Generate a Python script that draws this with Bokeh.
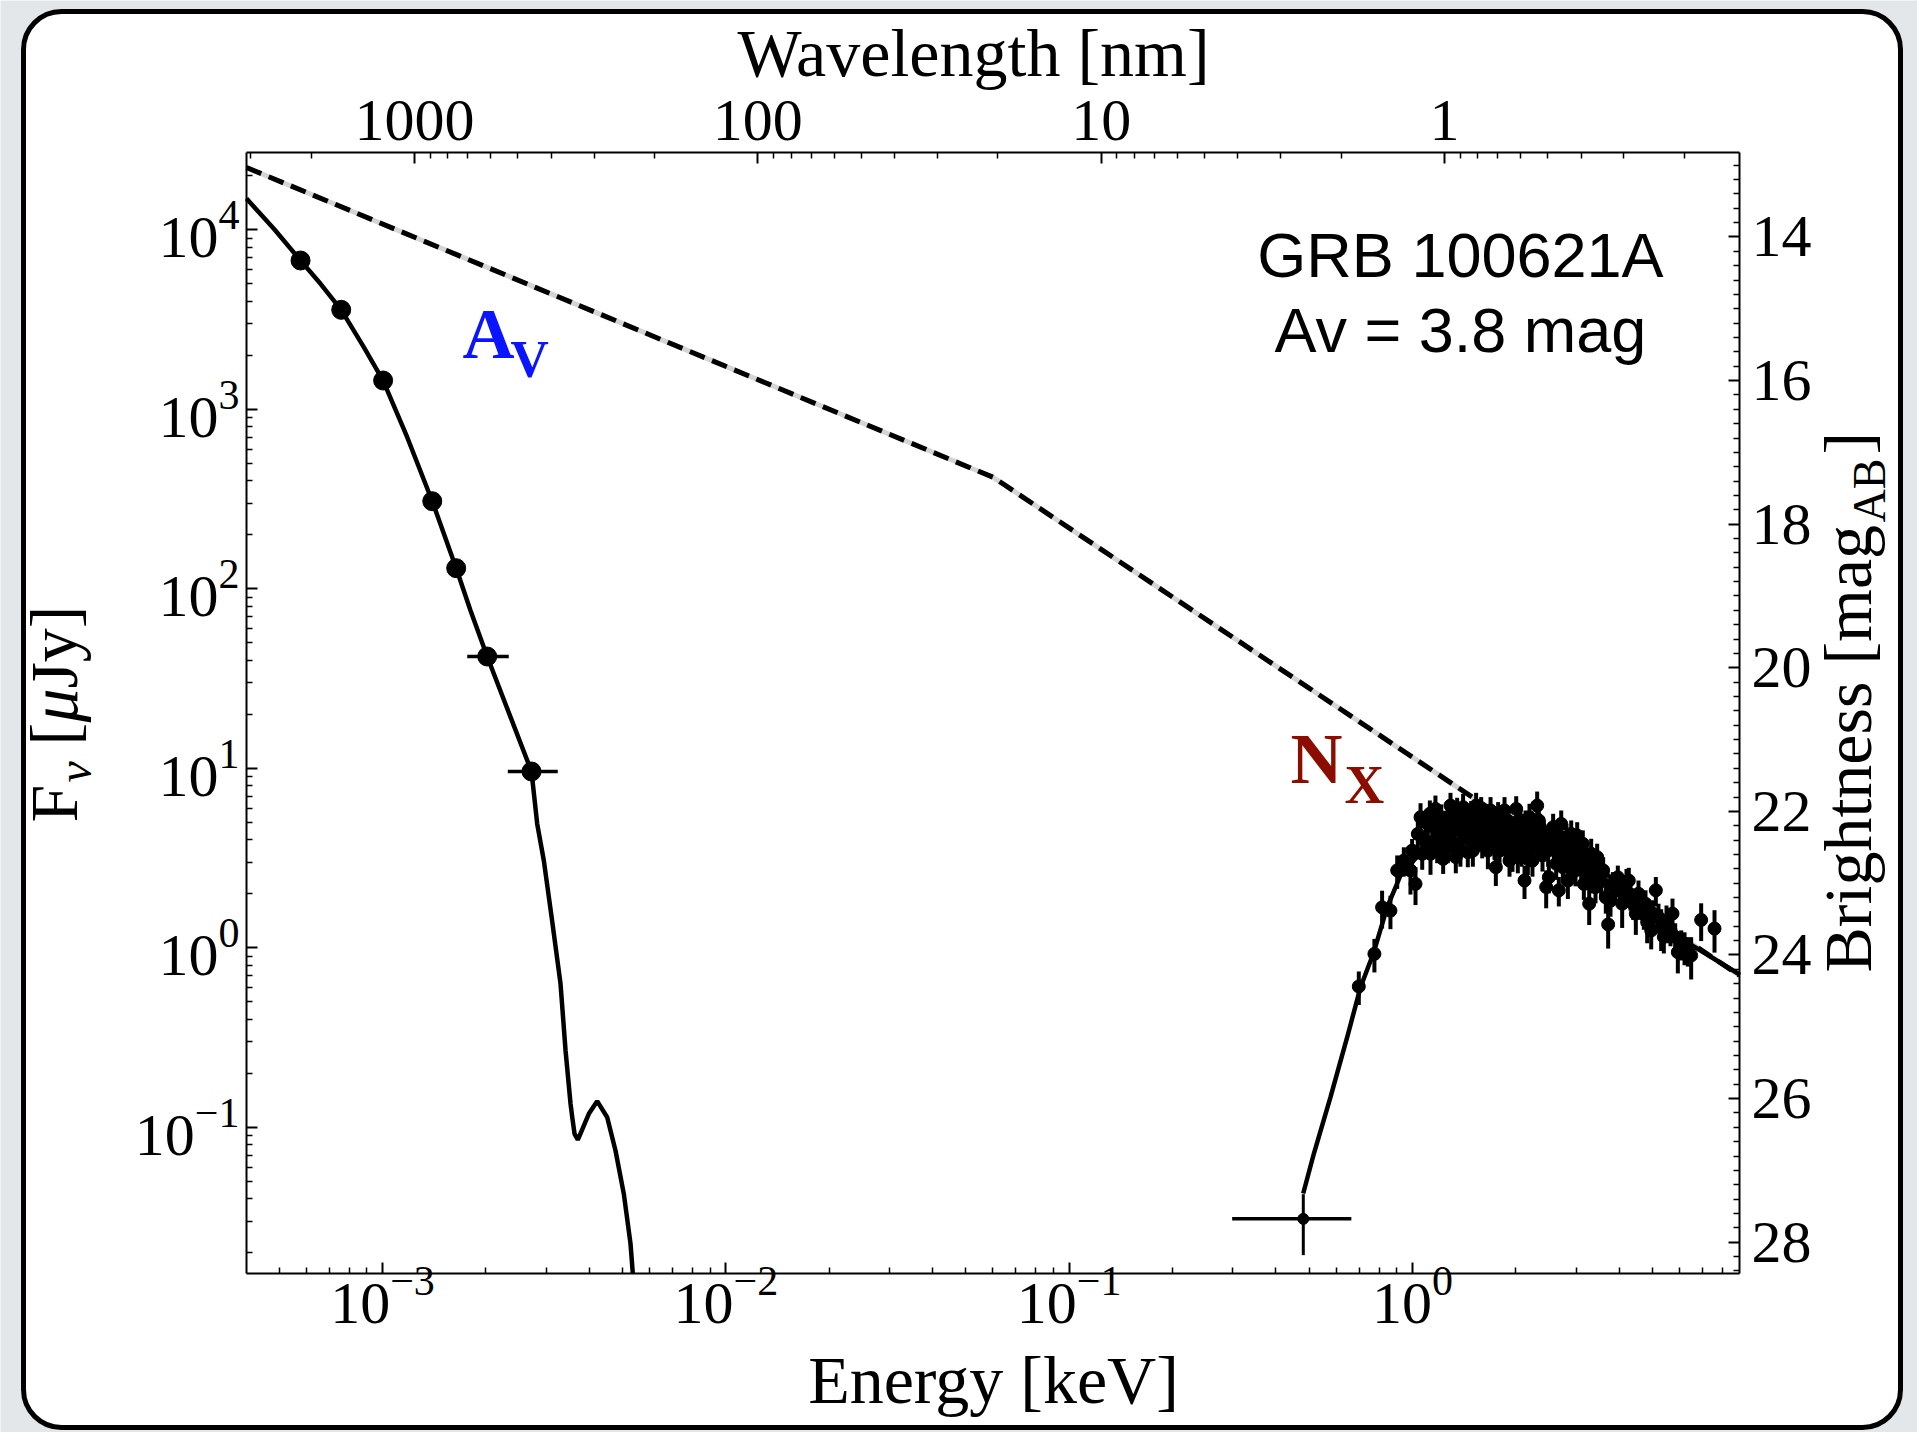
import numpy as np
from bokeh.plotting import figure
from bokeh.models import (LinearAxis, FixedTicker, CustomJSTickFormatter,
                          LogTickFormatter, Label, BoxAnnotation, Range1d)
from bokeh.embed import file_html
from bokeh.resources import INLINE

HC_KEV_NM = 1.23984      # E[keV] = HC / lambda[nm]
AB_ZP_UJY = 23.9         # m_AB = 23.9 - 2.5 log10(F / uJy)

# ---------------- data ----------------
# optical / NIR photometry (keV, uJy)
opt_E = [5.77e-4, 7.58e-4, 1.004e-3, 1.396e-3, 1.639e-3, 2.018e-3, 2.716e-3]
opt_E_lo = [5.43e-4, 7.13e-4, 9.44e-4, 1.312e-3, 1.541e-3, 1.765e-3, 2.317e-3]
opt_E_hi = [6.12e-4, 8.03e-4, 1.064e-3, 1.480e-3, 1.737e-3, 2.332e-3, 3.24e-3]
opt_F = [6745, 3583, 1447, 307.6, 130.3, 41.96, 9.60]
opt_F_err = [250, 130, 50, 10, 4.5, 1.4, 0.35]

# intrinsic (unabsorbed) broken power law
pl_E = [4.016e-4, 0.0601, 8.97]
pl_F = [22240, 418, 0.701]

# extinguished optical model
optmod_E = [4.016e-4, 4.825e-4, 5.77e-4, 6.598e-4, 7.58e-4, 8.82e-4, 1.004e-3, 1.180e-3,
            1.396e-3, 1.639e-3, 1.804e-3, 2.018e-3, 2.716e-3, 2.822e-3, 2.950e-3, 3.107e-3,
            3.300e-3, 3.413e-3, 3.529e-3, 3.570e-3, 3.625e-3, 3.706e-3, 3.990e-3, 4.219e-3,
            4.512e-3, 4.771e-3, 5.045e-3, 5.277e-3, 5.359e-3]
optmod_F = [14940, 10130, 6745, 5003, 3583, 2218, 1447, 699,
            307.6, 130.3, 75.7, 41.96, 9.60, 4.908, 3.064, 1.494,
            0.630, 0.2679, 0.1352, 0.1138, 0.0920, 0.0852, 0.1189, 0.1398,
            0.1138, 0.0743, 0.0426, 0.02244, 0.01533]

# absorbed X-ray model
xmod_E = [0.4807, 0.5162, 0.5773, 0.6457, 0.7060, 0.7718, 0.8444, 0.9232, 1.021, 1.129,
          1.291, 1.579, 1.931, 2.362, 2.887, 3.531, 4.318, 5.388, 6.906, 8.973]
xmod_F = [0.04278, 0.0712, 0.1471, 0.3176, 0.6032, 0.945, 1.684, 2.528, 3.145, 3.714,
          4.223, 4.503, 4.388, 3.962, 3.396, 2.765, 1.956, 1.281, 0.966, 0.710]

# X-ray spectrum
xray_E = [0.698, 0.775, 0.816, 0.863, 0.903, 0.944, 0.987, 0.998, 1.021, 1.056,
          1.092, 1.129, 1.154, 1.167, 1.194, 1.229, 1.257, 1.291, 1.326, 1.374,
          1.380, 1.412, 1.450, 1.483, 1.510, 1.533, 1.572, 1.622, 1.659, 1.689,
          1.712, 1.750, 1.777, 1.834, 1.896, 1.931, 1.957, 2.006, 2.051, 2.064,
          2.121, 2.169, 2.223, 2.258, 2.309, 2.393, 2.453, 2.497, 2.536, 2.623,
          2.670, 2.713, 2.780, 2.837, 2.901, 2.953, 3.020, 3.102, 3.158, 3.201,
          3.273, 3.317, 3.415, 3.491, 3.546, 3.659, 3.717, 3.835, 3.966, 4.037,
          4.083, 4.203, 4.318, 4.475, 4.638, 4.722, 4.829, 4.961, 5.118, 5.304,
          5.400, 5.497, 5.647, 5.723, 5.932, 6.204, 6.486, 6.936, 7.586,
          1.037, 1.109, 1.142, 1.213, 1.268, 1.306, 1.350, 1.396, 1.428, 1.470,
          1.551, 1.597, 1.640, 1.734, 1.805, 1.867, 1.984, 2.028, 2.093, 2.145,
          2.193, 2.283, 2.350, 2.426, 2.582, 2.652, 2.743, 2.861, 2.986, 3.060,
          3.243, 3.377, 3.594, 3.776, 3.905, 4.147, 4.269, 4.395, 4.556, 4.775,
          5.027, 5.210, 5.584, 5.827, 6.067, 6.343,
          1.068, 1.124, 1.181, 1.240, 1.282, 1.338, 1.405, 1.444, 1.500, 1.520,
          1.586, 1.670, 1.727, 1.794, 1.855, 1.918, 1.974, 2.079, 2.135, 2.237,
          2.335, 2.414, 2.485, 2.570, 2.688, 2.810, 2.927, 3.136, 3.346, 3.453]
xray_F = [0.609, 0.925, 1.68, 1.61, 2.70, 3.06, 2.70, 3.48, 2.27, 5.34,
          3.88, 3.34, 4.70, 5.94, 4.22, 3.13, 4.90, 6.20, 3.80, 5.12,
          3.48, 4.13, 3.41, 5.58, 3.96, 6.20, 4.22, 5.12, 3.48, 5.82,
          4.50, 2.81, 5.58, 4.13, 5.12, 4.31, 3.48, 5.94, 4.05, 5.12,
          2.37, 3.13, 4.50, 3.64, 6.20, 3.27, 2.18, 2.47, 4.13, 2.94,
          2.09, 4.90, 3.41, 2.37, 4.31, 3.06, 4.22, 2.75, 2.27, 3.20,
          1.76, 3.34, 2.18, 2.81, 2.37, 1.91, 1.35, 2.27, 2.47, 2.09,
          1.76, 2.32, 1.98, 1.55, 1.76, 1.55, 1.39, 1.25, 2.09, 1.30,
          1.15, 1.42, 1.25, 1.55, 0.945, 1.01, 0.906, 1.43, 1.28,
          4.31, 4.90, 3.88, 5.34, 3.64, 4.60, 5.82, 4.60, 5.34, 4.41,
          4.90, 3.88, 4.22, 3.80, 4.80, 3.64, 4.60, 3.20, 4.31, 3.88,
          5.34, 4.13, 4.70, 3.80, 3.64, 4.22, 2.81, 3.34, 2.70, 3.48,
          2.58, 2.94, 2.70, 1.83, 2.18, 2.00, 2.37, 1.76, 2.00, 1.76,
          1.55, 1.48, 1.30, 1.15, 1.05, 0.966,
          3.34, 5.58, 3.64, 4.13, 5.34, 3.20, 6.07, 4.70, 3.48, 4.90,
          5.82, 4.13, 5.12, 3.48, 5.82, 3.06, 3.96, 3.48, 4.90, 3.06,
          5.12, 4.31, 3.48, 4.70, 3.80, 4.13, 3.64, 3.80, 2.47, 3.20]
xray_F_err = [0.129, 0.196, 0.40, 0.34, 0.57, 0.57, 0.72, 0.56, 0.54, 1.05,
              0.73, 0.79, 0.88, 1.11, 0.79, 0.55, 0.92, 1.10, 0.71, 0.96,
              0.65, 0.88, 0.60, 0.99, 0.74, 1.10, 0.79, 0.96, 0.74, 1.09,
              0.84, 0.60, 0.90, 0.77, 0.96, 0.81, 0.83, 1.05, 0.76, 0.96,
              0.50, 0.59, 0.84, 0.68, 1.22, 0.61, 0.52, 0.46, 0.77, 0.55,
              0.39, 0.92, 0.64, 0.50, 0.81, 0.57, 0.79, 0.51, 0.42, 0.60,
              0.42, 0.71, 0.41, 0.53, 0.44, 0.36, 0.36, 0.37, 0.40, 0.39,
              0.47, 0.43, 0.37, 0.37, 0.33, 0.29, 0.33, 0.27, 0.39, 0.34,
              0.22, 0.30, 0.23, 0.33, 0.225, 0.21, 0.24, 0.34, 0.34,
              0.81, 0.92, 0.69, 0.95, 0.68, 0.81, 1.03, 0.86, 0.95, 0.82,
              0.87, 0.73, 0.75, 0.71, 0.85, 0.68, 0.81, 0.60, 0.76, 0.73,
              1.00, 0.77, 0.88, 0.71, 0.68, 0.75, 0.53, 0.62, 0.50, 0.65,
              0.48, 0.55, 0.50, 0.34, 0.39, 0.35, 0.42, 0.33, 0.37, 0.33,
              0.29, 0.28, 0.24, 0.22, 0.20, 0.18,
              0.62, 1.04, 0.68, 0.77, 1.00, 0.60, 1.14, 0.88, 0.65, 0.92,
              1.09, 0.77, 0.96, 0.65, 1.09, 0.57, 0.74, 0.65, 0.92, 0.57,
              0.96, 0.81, 0.65, 0.88, 0.71, 0.77, 0.68, 0.71, 0.46, 0.60]
xray_bin_frac = 0.04

# first (wide, low-energy) X-ray bin
xlow_E, xlow_E_lo, xlow_E_hi = [0.481], [0.2985], [0.664]
xlow_F, xlow_F_err = [0.0309], [0.0115]

# axis ticks
energy_major = [1e-3, 1e-2, 1e-1, 1.0]
flux_major = [1e-1, 1.0, 10.0, 100.0, 1e3, 1e4]
wavelength_major = [1000, 100, 10, 1]
mag_major = [14, 16, 18, 20, 22, 24, 26, 28]

# plotted box (axis limits)
E_MIN, E_MAX = 4.0158e-4, 8.97
F_MIN, F_MAX = 0.015328, 26960.0

# ---------------- geometry (canvas px) ----------------
W, H = 1917, 1432
FL, FR, FT, FB = 246, 1739, 152, 1273      # plot box edges on the canvas
lx0, lx1 = np.log10(E_MIN), np.log10(E_MAX)
ly0, ly1 = np.log10(F_MIN), np.log10(F_MAX)
DX = (FR - FL) / (lx1 - lx0)
DY = (FB - FT) / (ly1 - ly0)
x_range = Range1d(10 ** (lx0 - FL / DX), 10 ** (lx1 + (W - FR) / DX))
y_range = Range1d(10 ** (ly0 - (H - FB) / DY), 10 ** (ly1 + FT / DY))

p = figure(width=W, height=H, x_axis_type="log", y_axis_type="log",
           x_range=x_range, y_range=y_range,
           output_backend="svg", toolbar_location=None,
           min_border_left=0, min_border_right=0, min_border_top=0, min_border_bottom=0)
BG = "#e4e7ea"
p.background_fill_color = BG
p.border_fill_color = BG
p.outline_line_color = None
p.xgrid.visible = False
p.ygrid.visible = False

SERIF = "Liberation Serif"


def log_minors(lo, hi):
    out = []
    for n in range(-7, 7):
        for k in range(2, 10):
            v = k * 10.0 ** n
            if lo <= v <= hi:
                out.append(v)
    return out


def style_axis(ax, standoff, loc, bounds):
    ax.fixed_location = loc
    ax.bounds = bounds
    ax.axis_line_color = "black"
    ax.axis_line_width = 2
    ax.major_tick_in = 11
    ax.major_tick_out = 0
    ax.minor_tick_in = 6
    ax.minor_tick_out = 0
    ax.major_tick_line_width = 2
    ax.minor_tick_line_width = 1.5
    ax.major_tick_line_color = "black"
    ax.minor_tick_line_color = "black"
    ax.major_label_text_font = SERIF
    ax.major_label_text_font_size = "60px"
    ax.major_label_text_color = "black"
    ax.major_label_standoff = standoff
    ax.axis_label = None


# bottom: energy
bx = p.xaxis[0]
bx.ticker = FixedTicker(ticks=energy_major, minor_ticks=log_minors(E_MIN, E_MAX))
bx.formatter = LogTickFormatter()
style_axis(bx, -6, F_MIN, (E_MIN, E_MAX))

# left: flux
ly = p.yaxis[0]
ly.ticker = FixedTicker(ticks=flux_major, minor_ticks=log_minors(F_MIN, F_MAX))
ly.formatter = LogTickFormatter()
style_axis(ly, 7, E_MIN, (F_MIN, F_MAX))

# top: wavelength
wl_minor = log_minors(HC_KEV_NM / E_MAX, HC_KEV_NM / E_MIN)
top = LinearAxis(
    ticker=FixedTicker(ticks=[HC_KEV_NM / l for l in wavelength_major],
                       minor_ticks=[HC_KEV_NM / l for l in wl_minor]),
    formatter=CustomJSTickFormatter(code="return String(Math.round(1.23984 / tick));"))
style_axis(top, 13, F_MAX, (E_MIN, E_MAX))
p.add_layout(top, "above")

# right: AB magnitude
mag_lo = AB_ZP_UJY - 2.5 * ly1
mag_hi = AB_ZP_UJY - 2.5 * ly0
mag_minor = [round(m, 1) for m in np.arange(13.0, 28.5, 0.2)
             if mag_lo <= m <= mag_hi and abs(m - round(m / 2) * 2) > 1e-6]
right = LinearAxis(
    ticker=FixedTicker(ticks=[10 ** ((AB_ZP_UJY - m) / 2.5) for m in mag_major],
                       minor_ticks=[10 ** ((AB_ZP_UJY - m) / 2.5) for m in mag_minor]),
    formatter=CustomJSTickFormatter(code="return (23.9 - 2.5 * Math.log10(tick)).toFixed(0);"))
style_axis(right, 12, E_MAX, (F_MIN, F_MAX))
p.add_layout(right, "right")

# rounded white slide panel with black border
panel = BoxAnnotation(left=23, right=1900, top=H - 11, bottom=H - 1427,
                      left_units="screen", right_units="screen",
                      top_units="screen", bottom_units="screen",
                      fill_color="white", fill_alpha=1.0,
                      line_color="black", line_width=5, line_alpha=1.0,
                      border_radius=38, level="underlay")
p.add_layout(panel)

# ---------------- glyphs ----------------
p.line(pl_E, pl_F, line_color="#d4d4d4", line_width=5)
p.line(pl_E, pl_F, line_color="black", line_width=5, line_dash="16 8")
p.line(optmod_E, optmod_F, line_color="black", line_width=4.5)
p.line(xmod_E, xmod_F, line_color="black", line_width=4.5)

oF, oFe = np.array(opt_F), np.array(opt_F_err)
p.segment(x0=opt_E_lo, y0=opt_F, x1=opt_E_hi, y1=opt_F, line_color="black", line_width=3.5)
p.segment(x0=opt_E, y0=oF - oFe, x1=opt_E, y1=oF + oFe, line_color="black", line_width=3.5)
p.scatter(opt_E, opt_F, size=19, color="black")

xE, xF, xFe = np.array(xray_E), np.array(xray_F), np.array(xray_F_err)
p.segment(x0=xE * (1 - xray_bin_frac), y0=xF, x1=xE * (1 + xray_bin_frac), y1=xF,
          line_color="black", line_width=4)
p.segment(x0=xE, y0=xF - xFe, x1=xE, y1=xF + xFe, line_color="black", line_width=4)
p.scatter(xray_E, xray_F, size=13, color="black")

lF, lFe = np.array(xlow_F), np.array(xlow_F_err)
p.segment(x0=xlow_E_lo, y0=xlow_F, x1=xlow_E_hi, y1=xlow_F, line_color="black", line_width=3.5)
p.segment(x0=xlow_E, y0=lF - lFe, x1=xlow_E, y1=lF + lFe, line_color="black", line_width=3)
p.scatter(xlow_E, xlow_F, size=11, color="black")

# ---------------- text (canvas px, y from top) ----------------
BASE_SHIFT = 0.34   # measured baseline correction, in em


def lab(text, cx, cy, size, font=SERIF, align="left", vertical=False, color="black",
        style="normal"):
    if vertical:
        x, y, ang = cx - BASE_SHIFT * size, H - cy, np.pi / 2
    else:
        x, y, ang = cx, H - (cy - BASE_SHIFT * size), 0.0
    p.add_layout(Label(x=x, y=y, x_units="screen", y_units="screen",
                       text=text, text_font=font, text_font_size=f"{size}px",
                       text_align=align, text_baseline="alphabetic", angle=ang,
                       text_color=color, text_font_style=style))


lab("Wavelength [nm]", 973, 76, 68, align="center")
lab("Energy [keV]", 993, 1403, 68, align="center")

# left title  F_nu [mu Jy]
lab("F", 77, 822, 68, vertical=True)
lab("ν", 90, 782, 48, vertical=True, style="italic")
lab("[", 77, 745, 68, vertical=True)
lab("μ", 77, 722, 68, vertical=True, style="italic")
lab("Jy]", 77, 605, 68, vertical=True, align="right")

# right title  Brightness [mag_AB]
lab("Brightness [mag", 1871, 972, 68, vertical=True)
lab("AB", 1885, 522, 46, vertical=True)
lab("]", 1871, 454, 68, vertical=True)

# in-plot annotations
lab("A", 462, 358, 72, style="bold", color="#0a14ff")
lab("V", 510, 377, 53, style="bold", color="#0a14ff")
lab("N", 1290, 783, 72, style="bold", color="#8b0d00")
lab("X", 1344, 803, 55, style="bold", color="#8b0d00")

lab("GRB 100621A", 1460, 276, 63, font="Liberation Sans", align="center")
lab("Av = 3.8 mag", 1460, 351, 63, font="Liberation Sans", align="center")

open("out.html", "w").write(file_html(p, INLINE))
